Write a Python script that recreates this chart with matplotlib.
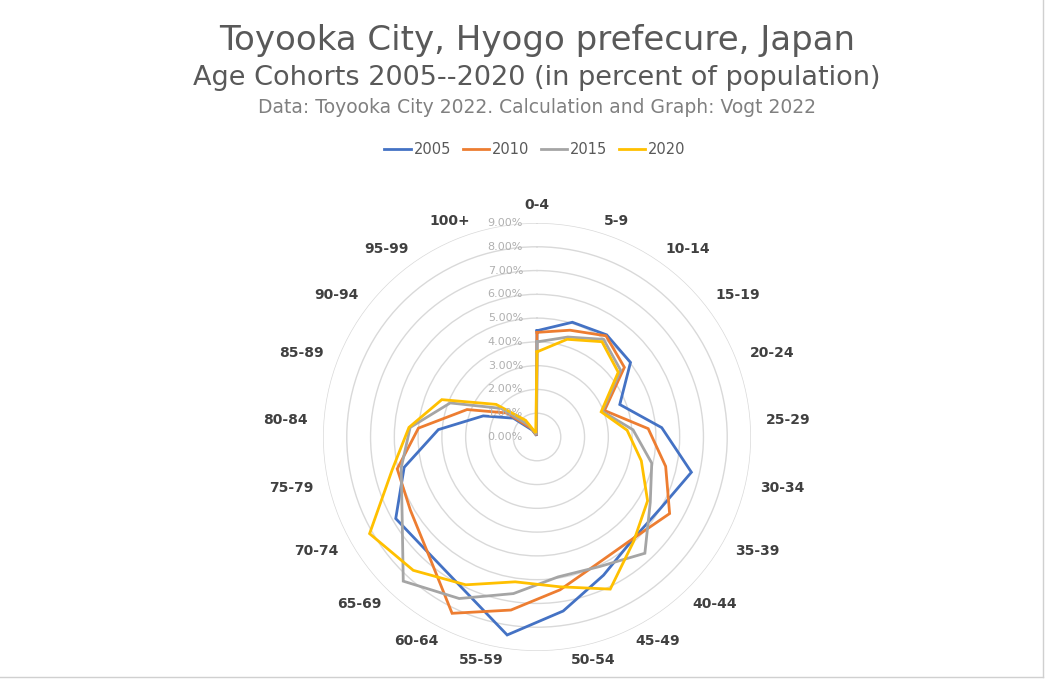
import numpy as np
import matplotlib.pyplot as plt
from matplotlib.lines import Line2D

# age cohorts, clockwise from the top
cohorts = ["0-4", "5-9", "10-14", "15-19", "20-24", "25-29", "30-34",
           "35-39", "40-44", "45-49", "50-54", "55-59", "60-64", "65-69",
           "70-74", "75-79", "80-84", "85-89", "90-94", "95-99", "100+"]

# share of population in percent
y2005 = [4.47, 5.05, 5.20, 5.03, 3.74, 5.26, 6.66, 6.00, 5.90, 6.45, 7.40,
         8.42, 7.12, 6.68, 6.86, 5.73, 4.16, 2.43, 1.27, 0.35, 0.06]
y2010 = [4.40, 4.70, 5.15, 4.70, 3.05, 4.69, 5.55, 6.44, 5.87, 5.90, 6.50,
         7.36, 8.23, 6.72, 6.15, 6.03, 5.00, 3.16, 1.62, 0.45, 0.08]
y2015 = [4.00, 4.40, 4.97, 4.50, 2.95, 4.05, 4.95, 5.50, 6.67, 6.05, 5.95,
         6.66, 7.54, 8.27, 6.55, 5.86, 5.35, 3.92, 1.93, 0.60, 0.10]
y2020 = [3.58, 4.30, 4.85, 4.37, 2.90, 3.80, 4.50, 5.37, 5.98, 7.10, 6.37,
         6.16, 6.90, 7.65, 8.13, 6.25, 5.40, 4.30, 2.20, 0.85, 0.18]

years = ["2005", "2010", "2015", "2020"]
series = [y2005, y2010, y2015, y2020]
colors = ["#4472C4", "#ED7D31", "#A5A5A5", "#FFC000"]
r_ticks = [0, 1, 2, 3, 4, 5, 6, 7, 8, 9]

W, H = 1053, 682
fig = plt.figure(figsize=(W / 100, H / 100), dpi=100)

# chart area border (right and bottom edges visible in the source)
fig.add_artist(Line2D([1043 / W, 1043 / W], [5 / H, 1], color="#d0d0d0", lw=1))
fig.add_artist(Line2D([0, 1043 / W], [5 / H, 5 / H], color="#d0d0d0", lw=1))

# polar axes centred at (537, 437) px, 9 % circle radius ~214 px
cx, cy, rad = 537, 437, 214
ax = fig.add_axes([(cx - rad) / W, (H - cy - rad) / H, 2 * rad / W, 2 * rad / H],
                  projection="polar")
ax.set_theta_zero_location("N")
ax.set_theta_direction(-1)
ax.set_ylim(0, 9)

theta = np.linspace(0, 2 * np.pi, len(cohorts), endpoint=False)
theta_c = np.append(theta, theta[0])

for vals, col, lab in zip(series, colors, years):
    v = np.append(vals, vals[0])
    ax.plot(theta_c, v, color=col, lw=2.0, label=lab, solid_joinstyle="miter")

# grid: circles only
ax.set_yticks(r_ticks[1:])
ax.set_yticklabels([])
ax.set_xticks([])
ax.yaxis.grid(True, color="#d9d9d9", lw=1.0)
ax.xaxis.grid(False)
ax.spines["polar"].set_visible(False)
ax.set_facecolor("none")

# radial value labels, left of the vertical axis
for r in r_ticks:
    ax.annotate(f"{r:.2f}%", xy=(0, r), xytext=(-14, 0), textcoords="offset pixels",
                ha="right", va="center", fontsize=8, color="#b0b0b0")

# category labels: anchored on the near side, like Excel does
for t, name in zip(theta, cohorts):
    s = np.sin(t)
    if abs(s) < 0.01:
        ha, va = "center", "bottom"
    else:
        ha, va = ("left" if s > 0 else "right"), "center"
    r_lab = 9.45 + 0.2 * abs(s)
    ax.text(t, r_lab, name, ha=ha, va=va, fontsize=10,
            fontweight="bold", color="#404040")

fig.text(0.51, 0.941, "Toyooka City, Hyogo prefecure, Japan", ha="center",
         va="center", fontsize=24.5, color="#595959")
fig.text(0.51, 0.886, "Age Cohorts 2005--2020 (in percent of population)",
         ha="center", va="center", fontsize=19.5, color="#595959")
fig.text(0.51, 0.843, "Data: Toyooka City 2022. Calculation and Graph: Vogt 2022",
         ha="center", va="center", fontsize=13.5, color="#808080")

handles = [Line2D([], [], color=c, lw=2.0) for c in colors]
fig.legend(handles, years, loc="center", bbox_to_anchor=(0.508, 0.781), ncol=4,
           frameon=False, fontsize=10.5, labelcolor="#595959", handlelength=1.8,
           handletextpad=0.2, columnspacing=0.8)

fig.savefig("out.png", dpi=100, facecolor="white")
